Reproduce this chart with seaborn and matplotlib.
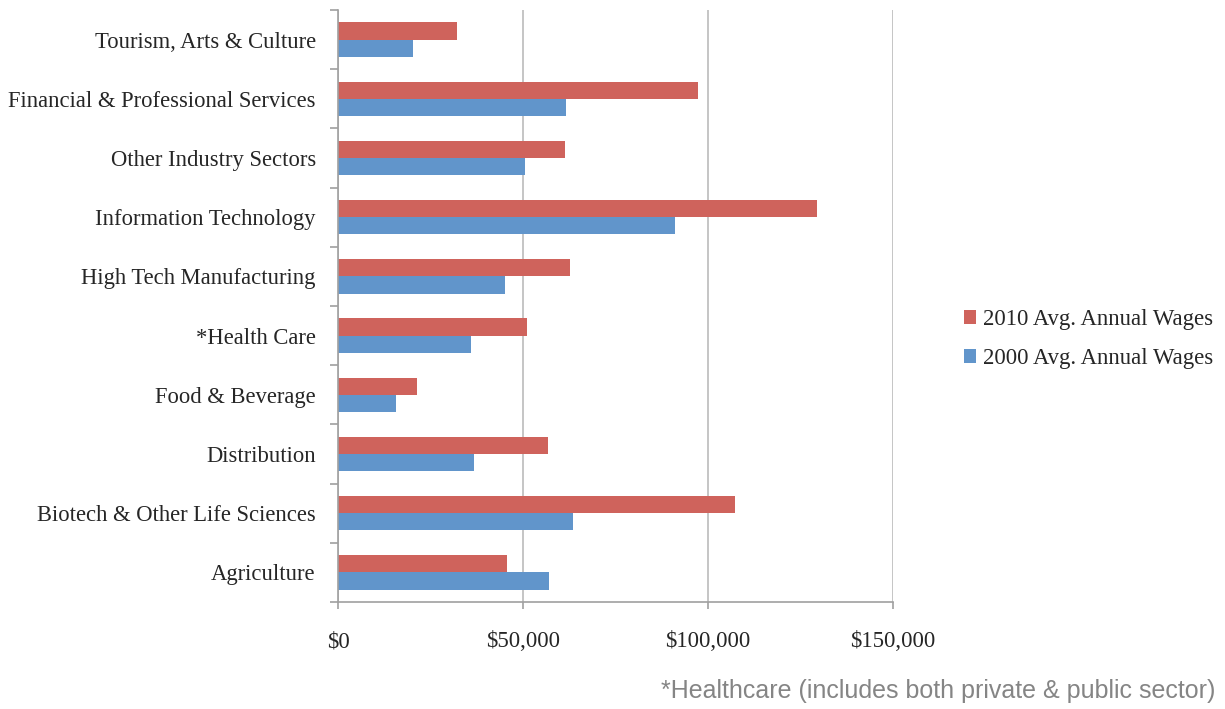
import pandas as pd
import numpy as np
import matplotlib.pyplot as plt
import seaborn as sns

# sectors, top to bottom
sectors = ['Tourism, Arts & Culture', 'Financial & Professional Services',
           'Other Industry Sectors', 'Information Technology',
           'High Tech Manufacturing', '*Health Care', 'Food & Beverage',
           'Distribution', 'Biotech & Other Life Sciences', 'Agriculture']
wages_2010 = [32200, 97300, 61400, 129500, 62800, 51100, 21400, 56800, 107300, 45700]
wages_2000 = [20200, 61600, 50500, 91100, 45100, 35900, 15700, 36800, 63500, 56900]
series = ['2010 Avg. Annual Wages', '2000 Avg. Annual Wages']
x_ticks = [0, 50000, 100000, 150000]
x_labels = ['$0', '$50,000', '$100,000', '$150,000']

df = pd.DataFrame({
    'sector': sectors * 2,
    'wage': wages_2010 + wages_2000,
    'series': [series[0]] * len(sectors) + [series[1]] * len(sectors),
})

sns.set_style('white')
plt.rcParams['font.family'] = ['Liberation Serif', 'DejaVu Serif']

fig = plt.figure(figsize=(12.25, 7.09), dpi=100)
ax = fig.add_axes([0.2759, 0.1509, 0.4531, 0.835])

sns.barplot(data=df, x='wage', y='sector', hue='series', order=sectors,
            hue_order=series, palette=['#CF635C', '#6195CB'], orient='h',
            width=0.58, gap=0, saturation=1, ax=ax, errorbar=None, linewidth=0)

ax.set_xlim(0, 150000)
ax.set_ylim(len(sectors) - 0.5, -0.5)
ax.set_xticks(x_ticks)
ax.set_xticklabels(x_labels, fontsize=16.5)
ax.set_xlabel('')
ax.set_ylabel('')
ax.tick_params(axis='y', length=0, labelsize=16.3, pad=16)
ax.set_yticks(np.arange(-0.5, len(sectors) + 0.5, 1), minor=True)
ax.tick_params(axis='y', which='minor', length=6, color='#A0A0A0', width=1.2, left=True)
ax.tick_params(axis='x', length=5, color='#A0A0A0', width=1.2, pad=16, bottom=True)

ax.grid(axis='x', color='#C0C0C0', linewidth=1.3)
ax.set_axisbelow(True)
for s in ['top', 'right']:
    ax.spines[s].set_visible(False)
for s in ['left', 'bottom']:
    ax.spines[s].set_color('#A0A0A0')
    ax.spines[s].set_linewidth(1.2)

ax.legend_.remove()
handles, labels = ax.get_legend_handles_labels()
fig.legend(handles, labels, loc='center left', bbox_to_anchor=(0.770, 0.522),
           frameon=False, fontsize=16.4, handlelength=0.55, handleheight=0.55,
           handletextpad=0.3, labelspacing=0.8)

fig.text(0.992, 0.008, '*Healthcare (includes both private & public sector)',
         ha='right', va='bottom', fontsize=18, color='#858585',
         family=['Liberation Sans', 'DejaVu Sans'])

plt.savefig('out.png', dpi=100)
